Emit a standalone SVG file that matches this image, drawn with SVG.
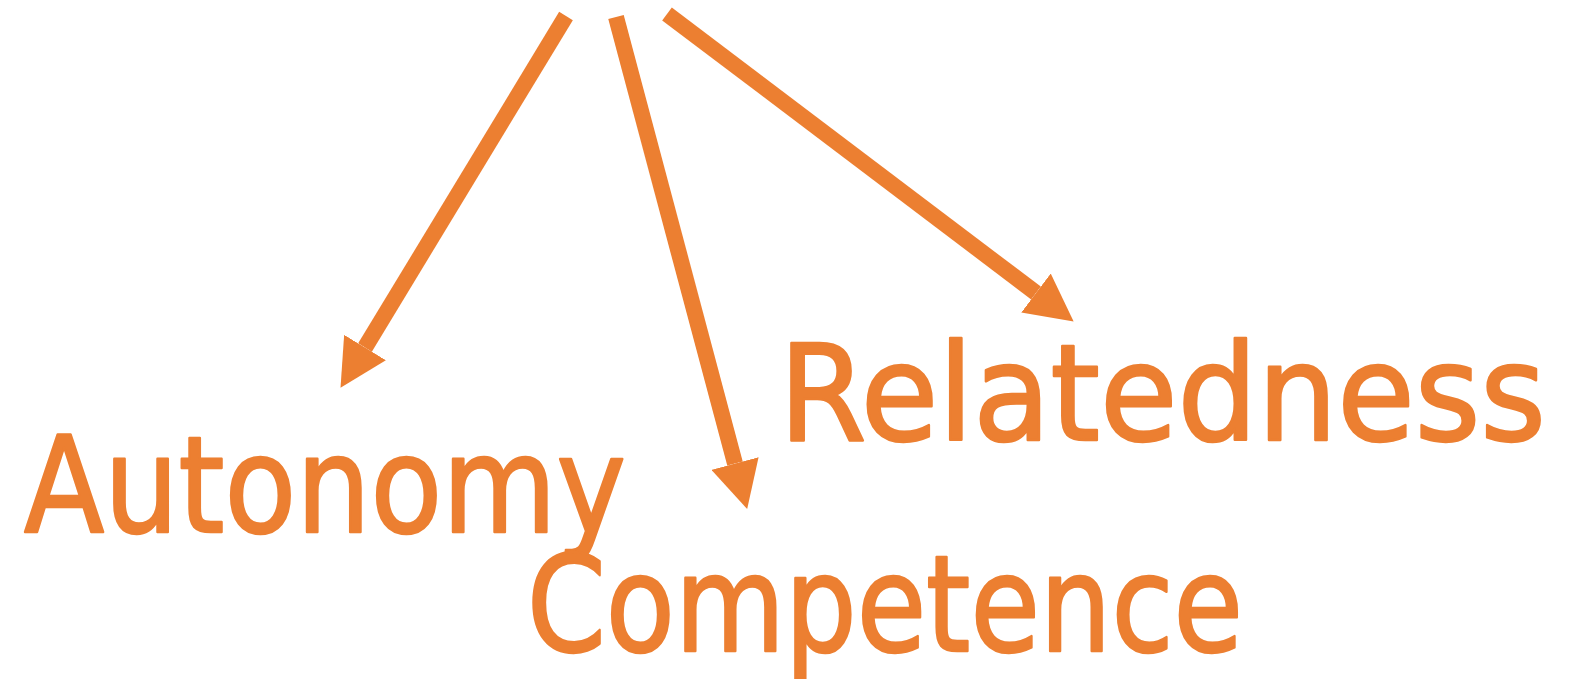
<svg xmlns="http://www.w3.org/2000/svg" width="1572" height="679" viewBox="0 0 1572 679">
  <style>
    .shaft { stroke: #EC7F31; stroke-width: 16; fill: none; stroke-linecap: butt; }
    .label { fill: #EC7F31; stroke: #EC7F31; stroke-width: 2.5; stroke-linejoin: round; font-family: "DejaVu Sans", "Liberation Sans", sans-serif; font-size: 134px; }
  </style>
  <defs>
    <marker id="head" viewBox="0 0 2.95 3.05" markerWidth="2.95" markerHeight="3.05" refX="0" refY="1.525" orient="auto" markerUnits="strokeWidth">
      <path d="M0,0 L2.95,1.525 L0,3.05 z" fill="#EC7F31"/>
    </marker>
  </defs>
  <rect width="1572" height="679" fill="#FFFFFF"/>

  <!-- connectors fanning out from the top -->
  <g id="connectors">
    <line class="shaft" x1="566" y1="16" x2="365" y2="347.5" marker-end="url(#head)"/>
    <line class="shaft" x1="616" y1="17" x2="735" y2="463.5" marker-end="url(#head)"/>
    <line class="shaft" x1="667" y1="14" x2="1036" y2="293" marker-end="url(#head)"/>
  </g>

  <g id="autonomy">
    <text class="label" x="24" y="532" textLength="602" lengthAdjust="spacingAndGlyphs">Autonomy</text>
  </g>
  <g id="competence">
    <text class="label" x="527" y="651" textLength="716" lengthAdjust="spacingAndGlyphs">Competence</text>
  </g>
  <g id="relatedness">
    <text class="label" x="779" y="440" textLength="767" lengthAdjust="spacingAndGlyphs">Relatedness</text>
  </g>
</svg>
